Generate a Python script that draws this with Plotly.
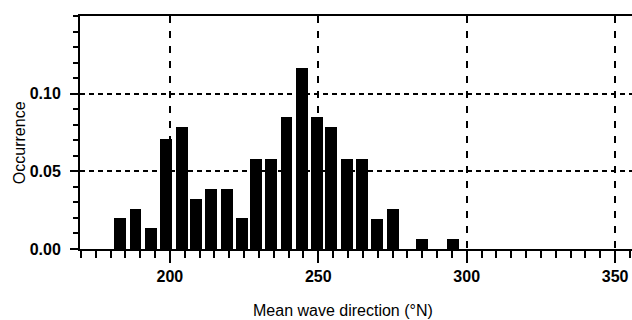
import plotly.graph_objects as go

# Bin centres (mean wave direction, °N)
direction = [183.2, 188.4, 193.7, 198.8, 204.1, 208.7, 213.9, 219.1, 224.3,
             229.1, 234.1, 239.3, 244.5, 249.7, 254.3, 259.6, 264.8, 269.9,
             275.2, 280.2, 285.0, 290.2, 295.4]
occurrence = [0.020, 0.026, 0.0135, 0.0706, 0.0788, 0.0324, 0.0384, 0.0384, 0.020,
              0.0578, 0.0578, 0.085, 0.1166, 0.085, 0.0786, 0.0578, 0.0578, 0.0196,
              0.0258, 0.0, 0.0067, 0.0, 0.0067]
x_ticks = [200, 250, 300, 350]
y_ticks = [0.00, 0.05, 0.10]

fig = go.Figure()
fig.add_trace(go.Bar(
    x=direction, y=occurrence, width=4.0,
    marker=dict(color="black", line=dict(width=0)),
))

tickfont = dict(family="Liberation Sans", size=16, color="black", weight="bold")

fig.update_layout(
    width=632, height=320,
    margin=dict(l=80, r=0, t=16, b=71),
    paper_bgcolor="white", plot_bgcolor="white",
    showlegend=False,
    bargap=0,
    xaxis=dict(
        range=[169.7, 355.7],
        tickvals=x_ticks, ticktext=[str(v) for v in x_ticks],
        ticks="outside", ticklen=12, tickwidth=2, tickcolor="black",
        showline=True, linewidth=2, linecolor="black", mirror=True,
        showgrid=True, gridcolor="black", gridwidth=2, griddash="7px,8px",
        zeroline=False,
        tickfont=tickfont,
        minor=dict(dtick=5, tick0=0, ticks="outside", ticklen=7, tickwidth=2,
                   tickcolor="black", showgrid=False),
    ),
    yaxis=dict(
        range=[0, 0.15],
        tickvals=y_ticks, ticktext=[f"{v:.2f}" for v in y_ticks],
        ticks="outside", ticklen=8, tickwidth=2, tickcolor="black",
        showline=True, linewidth=2, linecolor="black",
        showgrid=True, gridcolor="black", gridwidth=2, griddash="5px,4px",
        zeroline=False,
        tickfont=tickfont,
        ticklabelstandoff=6,
        minor=dict(dtick=0.01, tick0=0, ticks="outside", ticklen=5, tickwidth=2,
                   tickcolor="black", showgrid=False),
    ),
    annotations=[
        dict(text="Mean wave direction (°N)", xref="paper", yref="paper",
             x=(343 - 80) / 552, y=-(310 - 248.7) / 232.7, showarrow=False,
             xanchor="center", yanchor="middle",
             font=dict(family="Liberation Sans", size=16, color="black")),
        dict(text="Occurrence", xref="paper", yref="paper",
             x=-(80 - 19) / 552, y=(248.7 - 143) / 232.7, showarrow=False,
             textangle=-90, xanchor="center", yanchor="middle",
             font=dict(family="Liberation Sans", size=16, color="black")),
    ],
)

fig.write_html("out.html")
